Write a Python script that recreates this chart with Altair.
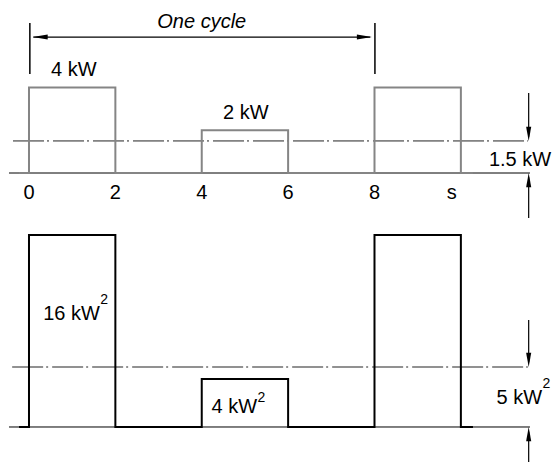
import altair as alt
import pandas as pd

# ---------------- data ----------------
# time points of the duty-cycle waveform (s)
t = [-0.23, 0, 0, 2, 2, 4, 4, 6, 6, 8, 8, 10, 10, 10.28]
# power (kW) and power squared (kW^2)
p_kw = [0, 0, 4, 4, 0, 0, 2, 2, 0, 0, 4, 4, 0, 0]
p_sq = [0, 0, 16, 16, 0, 0, 4, 4, 0, 0, 16, 16, 0, 0]

tick_pos = [0, 2, 4, 6, 8, 9.79]
tick_text = ["0", "2", "4", "6", "8", "s"]

avg_kw = 1.5        # average power line
rms_sq = 5          # mean square line

cycle_start = 0
cycle_end = 8

top_labels = ["4 kW", "2 kW"]
top_label_x = [1.04, 5.02]
top_label_y = [4.82, 2.81]

# bottom labels: main text (right-aligned at x) + superscript "2"
bot_main = ["16 kW", "4 kW", "5 kW"]
bot_main_x = [1.64, 5.28, 11.88]
bot_main_y = [9.42, 1.67, 2.42]
bot_sup_y = [10.58, 2.42, 3.55]

# ---------------- scales ----------------
XS = alt.Scale(domain=[-0.486, 12.11], nice=False, zero=False)
YT = alt.Scale(domain=[-13.52, 7.72], nice=False, zero=False)
YB = alt.Scale(domain=[-2.917, 34.917], nice=False, zero=False)
FONT = "Liberation Sans"
FS = 20
DASH = [31, 3, 2, 4]
X_LEFT, X_RIGHT = -0.463, 11.6
ARROW_X = 11.57
X_EDGE = 12.09

DOWN = "M0,0L-0.18,-1L0.18,-1Z"
UP = "M0,0L-0.18,1L0.18,1Z"
LEFT = "M0,0L1,-0.17L1,0.17Z"
RIGHT = "M0,0L-1,-0.17L-1,0.17Z"


def xq(f):
    return alt.X(f, type="quantitative", scale=XS, axis=None)


def yq(f, s):
    return alt.Y(f, type="quantitative", scale=s, axis=None)


def rules(df, s, **mk):
    return alt.Chart(df).mark_rule(**mk).encode(
        x=xq("x1"), x2=alt.X2("x2"), y=yq("y1", s), y2=alt.Y2("y2"))


def heads(df, s, shape, size=800):
    return alt.Chart(df).mark_point(shape=shape, filled=True, size=size,
                                    color="black", opacity=1, strokeWidth=0).encode(
        x=xq("x"), y=yq("y", s))


def texts(df, s, align="center", fs=FS, **mk):
    return alt.Chart(df).mark_text(font=FONT, fontSize=fs, color="black",
                                   align=align, baseline="middle", **mk).encode(
        x=xq("x"), y=yq("y", s), text="label:N")


wave = pd.DataFrame({"t": t, "p": p_kw, "q": p_sq, "i": range(len(t))})

# ---------------- top panel ----------------
base_top = rules(pd.DataFrame({"x1": [X_LEFT], "x2": [X_RIGHT], "y1": [0], "y2": [0]}),
                 YT, color="black", strokeWidth=1)
avg_top = rules(pd.DataFrame({"x1": [-0.37], "x2": [11.55], "y1": [avg_kw], "y2": [avg_kw]}),
                YT, color="#222222", strokeWidth=1, strokeDash=DASH)
wave_top = alt.Chart(wave).mark_line(color="#858585", strokeWidth=2, strokeJoin="miter").encode(
    x=xq("t"), y=yq("p", YT), order="i:Q")
cyc = rules(pd.DataFrame({"x1": [cycle_start + 0.02, cycle_end + 0.01],
                          "x2": [cycle_start + 0.02, cycle_end + 0.01],
                          "y1": [7.02, 7.02], "y2": [4.63, 4.63]}), YT,
            color="black", strokeWidth=1.5)
cyc_arrow = rules(pd.DataFrame({"x1": [cycle_start + 0.1], "x2": [cycle_end - 0.1],
                                "y1": [6.36], "y2": [6.36]}), YT, color="black", strokeWidth=1.2)
cyc_l = heads(pd.DataFrame({"x": [cycle_start + 0.086], "y": [6.36]}), YT, LEFT, 900)
cyc_r = heads(pd.DataFrame({"x": [cycle_end - 0.06], "y": [6.36]}), YT, RIGHT, 900)
arr_top = rules(pd.DataFrame({"x1": [ARROW_X, ARROW_X], "x2": [ARROW_X, ARROW_X],
                              "y1": [3.74, -2.1], "y2": [avg_kw + 0.2, -0.2]}), YT,
                color="black", strokeWidth=1.2)
arr_top_d = heads(pd.DataFrame({"x": [ARROW_X], "y": [avg_kw]}), YT, DOWN)
arr_top_u = heads(pd.DataFrame({"x": [ARROW_X], "y": [0]}), YT, UP)
ticks = texts(pd.DataFrame({"x": tick_pos, "y": [-0.94] * len(tick_pos), "label": tick_text}), YT)
lab_top = texts(pd.DataFrame({"x": top_label_x, "y": top_label_y, "label": top_labels}), YT)
lab_cyc = texts(pd.DataFrame({"x": [4.0], "y": [7.06], "label": ["One cycle"]}),
                YT, fontStyle="italic")
lab_avg = texts(pd.DataFrame({"x": [X_EDGE], "y": [0.61], "label": [f"{avg_kw} kW"]}),
                YT, align="right")

top = alt.layer(base_top, avg_top, wave_top, cyc, cyc_arrow, cyc_l, cyc_r,
                arr_top, arr_top_d, arr_top_u, ticks, lab_top, lab_cyc, lab_avg)

# ---------------- bottom panel ----------------
base_bot = rules(pd.DataFrame({"x1": [X_LEFT], "x2": [X_RIGHT], "y1": [0], "y2": [0]}),
                 YB, color="black", strokeWidth=1)
avg_bot = rules(pd.DataFrame({"x1": [-0.39], "x2": [11.55], "y1": [rms_sq], "y2": [rms_sq]}),
                YB, color="#6e6e6e", strokeWidth=1.4, strokeDash=DASH)
wave_bot = alt.Chart(wave).mark_line(color="black", strokeWidth=2, strokeJoin="miter").encode(
    x=xq("t"), y=yq("q", YB), order="i:Q")
arr_bot = rules(pd.DataFrame({"x1": [ARROW_X, ARROW_X], "x2": [ARROW_X, ARROW_X],
                              "y1": [8.92, -3.92], "y2": [rms_sq + 0.4, -0.4]}), YB,
                color="black", strokeWidth=1.2)
arr_bot_d = heads(pd.DataFrame({"x": [ARROW_X], "y": [rms_sq]}), YB, DOWN)
arr_bot_u = heads(pd.DataFrame({"x": [ARROW_X], "y": [0]}), YB, UP)
lab_bot = texts(pd.DataFrame({"x": bot_main_x, "y": bot_main_y, "label": bot_main}), YB,
                align="right")
lab_sup = texts(pd.DataFrame({"x": [v + 0.01 for v in bot_main_x], "y": bot_sup_y,
                              "label": ["2"] * 3}), YB, align="left", fs=14)

bottom = alt.layer(base_bot, avg_bot, wave_bot, arr_bot, arr_bot_d, arr_bot_u, lab_bot, lab_sup)

chart = alt.layer(top, bottom).resolve_scale(y="independent").properties(
    width=544, height=454, padding=0, autosize=alt.AutoSizeParams(type="none"),
    background="white"
).configure_view(stroke=None)

chart.save("out.html", embed_options={"renderer": "svg", "actions": False})
